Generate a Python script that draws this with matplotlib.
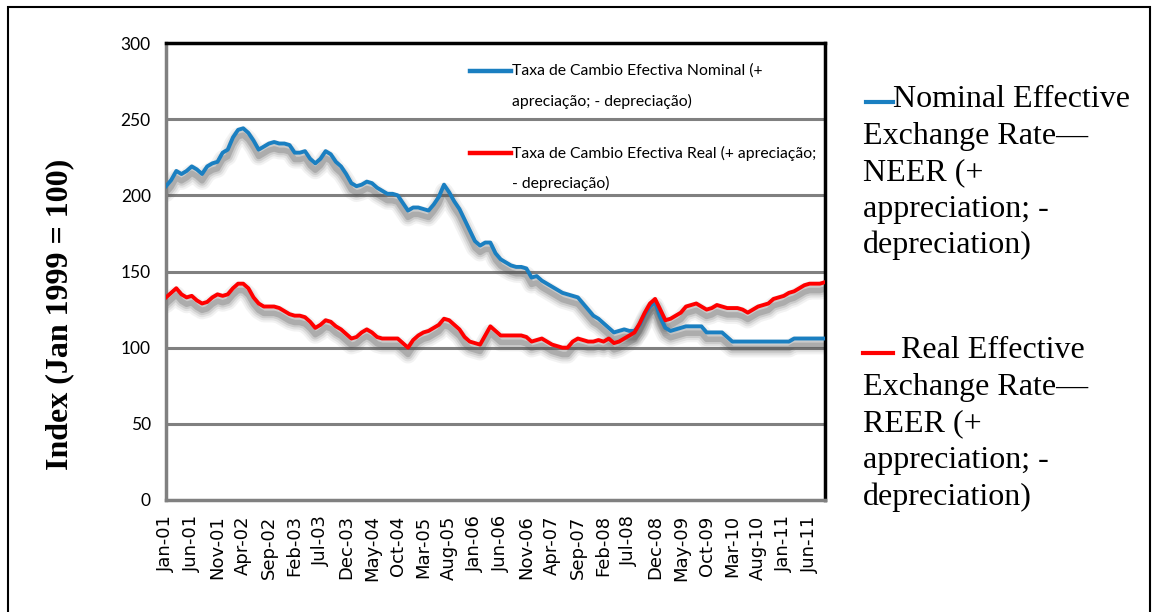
import matplotlib
matplotlib.use("Agg")
import matplotlib.pyplot as plt
from matplotlib.lines import Line2D
from matplotlib.patches import Rectangle
import numpy as np

# monthly index values, Jan-01 .. Sep-11
neer = [206, 210, 216, 214, 216, 219, 217, 214, 219, 221, 222, 228, 230, 238, 243, 244,
        241, 236, 230, 232, 234, 235, 234, 234, 233, 228, 228, 229, 224, 221, 224, 229,
        227, 222, 219, 214, 208, 206, 207, 209, 208, 205, 203, 201, 201, 200, 195, 190,
        192, 192, 191, 190, 194, 199, 207, 202, 196, 191, 184, 177, 170, 167, 169, 169,
        162, 158, 156, 154, 153, 153, 152, 146, 147, 144, 142, 140, 138, 136, 135, 134,
        133, 129, 125, 121, 119, 116, 113, 110, 111, 112, 111, 111, 115, 122, 127, 130,
        120, 113, 111, 112, 113, 114, 114, 114, 114, 110, 110, 110, 110, 107, 104, 104,
        104, 104, 104, 104, 104, 104, 104, 104, 104, 104, 106, 106, 106, 106, 106, 106,
        106]
reer = [133, 136, 139, 135, 133, 134, 131, 129, 130, 133, 135, 134, 135, 139, 142, 142,
        139, 133, 129, 127, 127, 127, 126, 124, 122, 121, 121, 120, 117, 113, 115, 118,
        117, 114, 112, 109, 106, 107, 110, 112, 110, 107, 106, 106, 106, 106, 103, 100,
        105, 108, 110, 111, 113, 115, 119, 118, 115, 112, 107, 104, 103, 102, 108, 114,
        111, 108, 108, 108, 108, 108, 107, 104, 105, 106, 104, 102, 101, 100, 100, 104,
        106, 105, 104, 104, 105, 104, 106, 103, 104, 106, 108, 110, 116, 123, 129, 132,
        125, 118, 119, 121, 123, 127, 128, 129, 127, 125, 126, 128, 127, 126, 126, 126,
        125, 123, 125, 127, 128, 129, 132, 133, 134, 136, 137, 139, 141, 142, 142, 142,
        143]
tick_labels = ["Jan-01", "Jun-01", "Nov-01", "Apr-02", "Sep-02", "Feb-03", "Jul-03",
               "Dec-03", "May-04", "Oct-04", "Mar-05", "Aug-05", "Jan-06", "Jun-06",
               "Nov-06", "Apr-07", "Sep-07", "Feb-08", "Jul-08", "Dec-08", "May-09",
               "Oct-09", "Mar-10", "Aug-10", "Jan-11", "Jun-11"]
y_ticks = [0, 50, 100, 150, 200, 250, 300]

legend_nominal = ["Taxa de Cambio Efectiva Nominal (+", "apreciação; - depreciação)"]
legend_real = ["Taxa de Cambio Efectiva Real (+ apreciação;", "- depreciação)"]
side_nominal = ["Nominal Effective", "Exchange Rate\u2014", "NEER (+",
                "appreciation; -", "depreciation)"]
side_real = [" Real Effective", "Exchange Rate\u2014", "REER (+",
             "appreciation; -", "depreciation)"]

BLUE = "#1a7fc1"
RED = "#ff0000"
sans = "Lato"
serif = ["Liberation Serif", "DejaVu Serif"]

W, H = 1157, 612
fig = plt.figure(figsize=(W / 100, H / 100), dpi=100)
ax = fig.add_axes([166 / W, 1 - 500 / H, (825 - 166) / W, (500 - 43) / H])

x = np.arange(len(neer))


def shadowed(vals, color):
    v = np.array(vals, dtype=float)
    for lw, a in [(13, 0.07), (10, 0.10), (7, 0.15), (4, 0.25)]:
        ax.plot(x, v - 4.5, color="#505050", lw=lw, alpha=a,
                solid_capstyle="round", solid_joinstyle="round", zorder=2)
    ax.plot(x, v, color=color, lw=2.8, solid_joinstyle="round", zorder=3)


shadowed(neer, BLUE)
shadowed(reer, RED)

ax.set_xlim(0, len(neer) - 1)
ax.set_ylim(0, 300)
ax.set_yticks(y_ticks)
ax.set_yticklabels([str(t) for t in y_ticks], family=sans, fontsize=12.5)
ax.set_xticks(np.arange(0, len(tick_labels) * 5, 5))
ax.set_xticklabels(tick_labels, rotation=90, fontsize=13, family="DejaVu Sans")
ax.tick_params(axis="both", length=0)
ax.tick_params(axis="y", pad=11)
ax.tick_params(axis="x", pad=11)

for t in y_ticks[1:-1]:
    ax.axhline(t, color="#808080", lw=2.2, zorder=1)
for s in ["left", "bottom"]:
    ax.spines[s].set_color("#808080")
    ax.spines[s].set_linewidth(2.5)
for s in ["top", "right"]:
    ax.spines[s].set_color("black")
    ax.spines[s].set_linewidth(2.5)

fig.text(60 / W, 1 - 314 / H, "Index (Jan 1999 = 100)", family=serif,
         fontweight="bold", fontsize=23, rotation=90, ha="center", va="center")

# Portuguese legend inside the plot
for y0, color, lines in [(71, BLUE, legend_nominal), (153, RED, legend_real)]:
    fig.add_artist(Line2D([470 / W, 511 / W], [1 - y0 / H, 1 - y0 / H], color=color, lw=3.2))
    for i, line in enumerate(lines):
        fig.text(512 / W, 1 - (y0 + 30 * i) / H, line, family=sans, fontsize=11.3,
                 va="center")

# right-hand English legend
fig.add_artist(Line2D([866 / W, 893 / W], [1 - 102 / H, 1 - 102 / H], color=BLUE, lw=3))
fig.add_artist(Line2D([863 / W, 893 / W], [1 - 353 / H, 1 - 353 / H], color=RED, lw=3))
for i, line in enumerate(side_nominal):
    fig.text((893 if i == 0 else 863) / W, 1 - (107 + 36.5 * i) / H, line,
             family=serif, fontsize=23, va="baseline")
for i, line in enumerate(side_real):
    fig.text((893 if i == 0 else 863) / W, 1 - (358 + 36.7 * i) / H, line,
             family=serif, fontsize=23, va="baseline")

fig.add_artist(Rectangle((8 / W, -0.02), (1150 - 8) / W, 1 - 7 / H + 0.02,
                         transform=fig.transFigure, fill=False, ec="black", lw=1.5))

fig.savefig("out.png", dpi=100)
